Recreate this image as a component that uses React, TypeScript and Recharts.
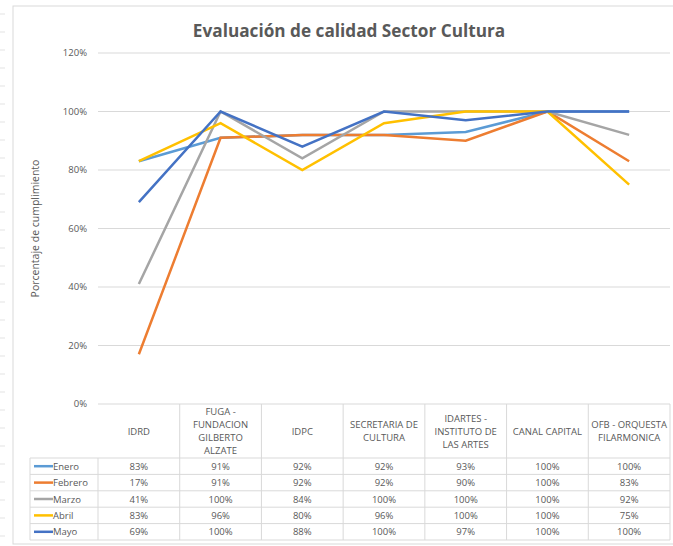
import { LineChart, Line, XAxis, YAxis, CartesianGrid } from "recharts";

const categories = [
  "IDRD",
  "FUGA - FUNDACION GILBERTO ALZATE",
  "IDPC",
  "SECRETARIA DE CULTURA",
  "IDARTES - INSTITUTO DE LAS ARTES",
  "CANAL CAPITAL",
  "OFB - ORQUESTA FILARMONICA",
];

// header text split the way Excel wrapped it
const headerLines = [
  ["IDRD"],
  ["FUGA -", "FUNDACION", "GILBERTO", "ALZATE"],
  ["IDPC"],
  ["SECRETARIA DE", "CULTURA"],
  ["IDARTES -", "INSTITUTO DE", "LAS ARTES"],
  ["CANAL CAPITAL"],
  ["OFB - ORQUESTA", "FILARMONICA"],
];

const enero = [0.83, 0.91, 0.92, 0.92, 0.93, 1.0, 1.0];
const febrero = [0.17, 0.91, 0.92, 0.92, 0.9, 1.0, 0.83];
const marzo = [0.41, 1.0, 0.84, 1.0, 1.0, 1.0, 0.92];
const abril = [0.83, 0.96, 0.8, 0.96, 1.0, 1.0, 0.75];
const mayo = [0.69, 1.0, 0.88, 1.0, 0.97, 1.0, 1.0];

const yTicks = [0, 0.2, 0.4, 0.6, 0.8, 1.0, 1.2];

const series = [
  { key: "Enero", values: enero, color: "#5B9BD5" },
  { key: "Febrero", values: febrero, color: "#ED7D31" },
  { key: "Marzo", values: marzo, color: "#A5A5A5" },
  { key: "Abril", values: abril, color: "#FFC000" },
  { key: "Mayo", values: mayo, color: "#4472C4" },
];

const data = categories.map((c, i) => {
  const row: Record<string, any> = { name: c };
  series.forEach((s) => (row[s.key] = s.values[i]));
  return row;
});

const W = 673;
const H = 546;
const FONT = "'Open Sans', 'Noto Sans', sans-serif";
const TEXT = "#595959";
const BORDER = "#D9D9D9";
const HEADER_H = 54;
const ROW_H = 16.4;

const pct = (v: number) => `${Math.round(v * 100)}%`;

function RowHeaders({ left, right, top }: { left: number; right: number; top: number }) {
  const n = series.length;
  return (
    <g>
      {series.map((s, r) => {
        const cy = top + ROW_H * r + ROW_H / 2;
        return (
          <g key={s.key}>
            <line x1={34} x2={53} y1={cy} y2={cy} stroke={s.color} strokeWidth={2.5} />
            <text x={53} y={cy} dominantBaseline="central" fontSize={9.5} fill={TEXT} fontFamily={FONT}>
              {s.key}
            </text>
          </g>
        );
      })}
      {Array.from({ length: n + 1 }, (_, r) => (
        <line key={r} x1={30} x2={right} y1={top + ROW_H * r} y2={top + ROW_H * r} stroke={BORDER} />
      ))}
      <line x1={30} x2={30} y1={top} y2={top + ROW_H * n} stroke={BORDER} />
      <line x1={left} x2={left} y1={top} y2={top + ROW_H * n} stroke={BORDER} />
    </g>
  );
}

function TableTick(props: any) {
  const { x, y, payload } = props;
  const idx = payload.index;
  const half = payload.offset || 40.8;
  const lines = headerLines[idx] || [payload.value];
  const lh = 13;
  const startY = y + HEADER_H / 2 - ((lines.length - 1) * lh) / 2;
  const bottom = y + HEADER_H + ROW_H * series.length;
  return (
    <g>
      {idx === 0 && (
        <RowHeaders left={x - half} right={x - half + 2 * half * categories.length} top={y + HEADER_H} />
      )}
      <line x1={x + half} x2={x + half} y1={y} y2={bottom} stroke={BORDER} />
      {lines.map((l, i) => (
        <text
          key={i}
          x={x}
          y={startY + i * lh}
          textAnchor="middle"
          dominantBaseline="central"
          fontSize={9.5}
          fill={TEXT}
          fontFamily={FONT}
        >
          {l}
        </text>
      ))}
      {series.map((s, r) => (
        <text
          key={s.key}
          x={x}
          y={y + HEADER_H + ROW_H * r + ROW_H / 2}
          textAnchor="middle"
          dominantBaseline="central"
          fontSize={9.5}
          fill={TEXT}
          fontFamily={FONT}
        >
          {pct(s.values[idx])}
        </text>
      ))}
    </g>
  );
}

export default function App() {
  return (
    <div style={{ position: "absolute", left: 0, top: 0, width: W, height: H, background: "#fff" }}>
      <svg width={W} height={H} style={{ position: "absolute", left: 0, top: 0 }}>
        <rect x={13} y={6} width={W} height={538} fill="none" stroke={BORDER} />
        {Array.from({ length: 30 }, (_, i) => (
          <line key={i} x1={0} x2={5} y1={14 + i * 18} y2={14 + i * 18} stroke="#E3E3E3" />
        ))}
        <text
          x={349}
          y={30}
          textAnchor="middle"
          dominantBaseline="central"
          fontSize={17.2}
          fontWeight="bold"
          fill={TEXT}
          fontFamily={FONT}
        >
          Evaluación de calidad Sector Cultura
        </text>
      </svg>
      <div style={{ position: "absolute", left: 0, top: 0 }}>
        <LineChart width={W} height={H} data={data} margin={{ top: 53, right: 3, bottom: 6, left: 0 }}>
          <CartesianGrid vertical={false} stroke={BORDER} />
          <XAxis
            dataKey="name"
            scale="band"
            height={136}
            axisLine={false}
            tickLine={false}
            tickSize={0}
            tickMargin={0}
            interval={0}
            tick={<TableTick />}
          />
          <YAxis
            width={98}
            domain={[0, 1.2]}
            ticks={yTicks}
            tickFormatter={pct}
            axisLine={false}
            tickLine={false}
            tickMargin={5}
            tick={{ fontSize: 9.5, fill: TEXT, fontFamily: FONT }}
            label={{
              value: "Porcentaje de cumplimiento",
              angle: -90,
              position: "insideLeft",
              offset: 35,
              style: { textAnchor: "middle", fontSize: 10.5, fill: TEXT, fontFamily: FONT },
            }}
          />
          {series.map((s) => (
            <Line
              key={s.key}
              type="linear"
              dataKey={s.key}
              stroke={s.color}
              strokeWidth={2.5}
              dot={false}
              activeDot={false}
              isAnimationActive={false}
            />
          ))}
        </LineChart>
      </div>
    </div>
  );
}
